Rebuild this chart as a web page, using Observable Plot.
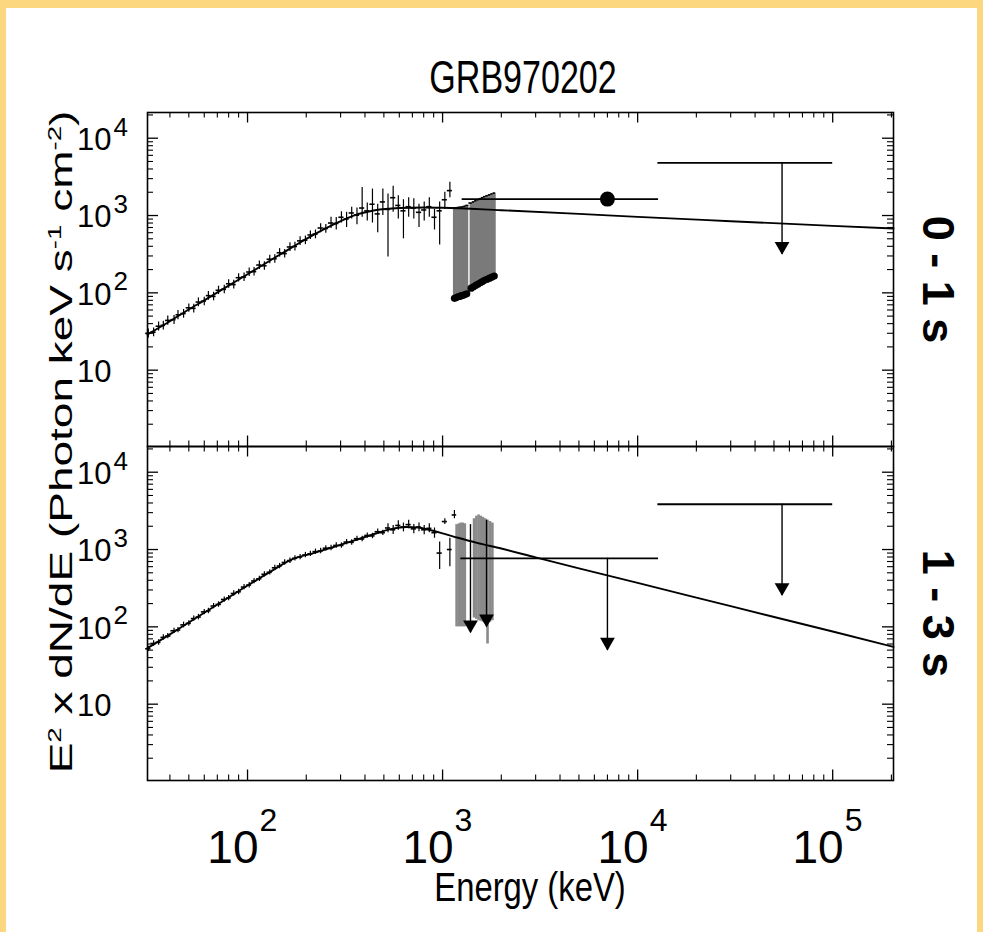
<!DOCTYPE html>
<html>
<head>
<meta charset="utf-8">
<script src="https://cdn.jsdelivr.net/npm/d3@7"></script>
<script src="https://cdn.jsdelivr.net/npm/@observablehq/plot@0.6"></script>
<style>
  html, body { margin: 0; padding: 0; background: #FDD680; }
  #page { position: relative; width: 983px; height: 932px; overflow: hidden; background: #FDD680; }
  #panel { position: absolute; left: 6px; top: 8px; width: 971px; height: 924px; background: #fff; }
  #chart { position: absolute; left: 0; top: 0; }
  .lbl { position: absolute; font-family: "Liberation Sans", Arial, Helvetica, sans-serif; color: #000; white-space: nowrap; line-height: 1; }
  .lbl sup { font-size: 0.6em; line-height: 0; vertical-align: 0.6em; }
  #title { left: 523px; top: 77px; font-size: 46px; transform: translate(-50%, -50%) scaleX(0.74); }
  #xlabel { left: 530px; top: 887px; font-size: 40px; transform: translate(-50%, -50%) scaleX(0.82); }
  #ylabel { left: 61px; top: 442px; font-size: 46px; transform: translate(-50%, -50%) rotate(-90deg) scaleY(0.68); }
</style>
</head>
<body>
<div id="page">
  <div id="panel"><div id="chart"></div></div>
  <div class="lbl" id="title">GRB970202</div>
  <div class="lbl" id="xlabel">Energy (keV)</div>
  <div class="lbl" id="ylabel">E<sup>2</sup> x dN/dE (Photon keV s<sup>-1</sup> cm<sup>-2</sup>)</div>
</div>
<script>
// ---------------- data ----------------
const panels = ["0 - 1 s", "1 - 3 s"];

// 0-1 s : dense spectrum (keV, E^2 dN/dE, lower, upper)
const energyTop = [31,33,35,37,39,42,44,47,50,53,56,60,63,67,71,76,80,85,90,96,102,108,115,122,130,138,146,155,165,175,186,198,210,223,237,252,268,285,303,322,342,364,387,411,437,465,494,525,558,593,630,670,712,757,805,855,909,966,1027,1090];
const fluxTop   = [30,31,37,38,44,45,52,54,64,63,76,78,92,90,108,111,131,128,157,160,186,188,229,224,272,276,330,322,392,398,470,480,560,575,690,680,800,790,950,900,1080,1010,1250,1150,1400,1050,1500,1200,1700,1350,1150,1300,1250,1100,1180,1300,950,1150,1600,2100];
const lowTop    = [26,27,32,33,38,39,45,47,56,55,66,68,80,79,95,97,115,112,138,140,163,165,200,196,238,242,290,282,343,348,410,420,490,500,600,590,680,650,800,700,900,760,950,850,800,600,1000,290,1100,900,500,950,900,700,850,950,650,415,1200,1700];
const highTop   = [34,35,42,43,50,51,59,61,72,71,86,88,104,102,122,125,148,145,177,181,210,212,259,253,307,312,373,364,443,450,531,542,633,650,780,768,950,940,1120,1100,1280,1250,2300,1450,2200,1400,2200,1900,2400,1800,1600,1700,1650,1400,1500,1700,1200,1500,2000,2700];

// 1-3 s : dense spectrum
const energyBot = [31,33,35,37,39,42,44,47,50,53,56,60,63,67,71,76,80,85,90,96,102,108,115,122,130,138,146,155,165,175,186,198,210,223,237,252,268,285,303,322,342,364,387,411,437,465,494,525,558,593,630,670,712,757,805,855,909,966,1027,1090,1150];
const fluxBot   = [52,61,63,73,76,89,91,106,111,128,134,156,161,186,195,226,236,270,284,327,347,392,418,478,508,580,612,680,720,770,800,850,880,940,960,1040,1050,1130,1130,1250,1240,1380,1370,1520,1500,1700,1650,1900,1800,2050,1950,2100,1850,1950,1800,1880,1650,900,2300,1000,2800];
const lowBot    = [48,56,58,67,70,82,84,97,102,118,123,143,148,171,179,208,217,248,261,301,319,361,385,440,467,534,563,625,662,708,736,782,810,865,883,957,966,1040,1040,1150,1140,1270,1260,1400,1380,1560,1520,1650,1560,1780,1690,1850,1600,1700,1550,1650,1400,550,2100,600,2500];
const highBot   = [56,66,68,79,82,96,98,115,120,138,145,168,174,201,211,244,255,292,307,353,375,423,451,516,549,626,661,735,778,832,864,918,950,1015,1037,1123,1134,1220,1220,1350,1340,1490,1480,1640,1620,1840,1780,2150,2050,2350,2200,2400,2100,2200,2050,2150,1900,1250,2500,1400,3200];

// high-energy channels with large errors (grey)
const greyEnergyTop = [1150,1175,1200,1225,1250,1275,1300,1330,1400,1440,1480,1520,1560,1600,1640,1690,1740,1790,1840];
const greyLowTop    = [85,87,89,90,92,93,95,97,115,120,125,130,135,140,145,150,155,160,165];
const greyHighTop   = [1250,1260,1270,1280,1290,1300,1320,1350,1450,1500,1550,1600,1650,1700,1750,1800,1850,1900,1950];

const greyEnergyBot = [1180,1210,1240,1270,1300,1450,1490,1530,1570,1610,1650,1700,1750,1800];
const greyLowBot    = [100,100,100,100,100,130,125,120,118,115,112,60,115,120];
const greyHighBot   = [2100,2150,2200,2200,2150,2500,2700,2800,2700,2600,2500,2400,2300,2200];

// best-fit model curves
const modelEnergyTop = [30.7,40,50,60,80,100,130,170,220,280,350,450,600,800,1000,2000,5000,10000,30000,100000,205000];
const modelFluxTop   = [29,43,61,80,124,174,260,391,570,780,1000,1170,1250,1270,1260,1170,1050,960,845,735,680];
const modelEnergyBot = [30.7,40,50,60,80,100,130,170,220,280,350,450,550,650,750,850,1000,1200,1500,2000,3000,5000,10000,30000,100000,205000];
const modelFluxBot   = [53,80,114,152,240,342,510,750,905,1090,1300,1600,1850,1960,1930,1800,1620,1420,1220,1030,790,570,370,185,87,55];

// horizontal bars (energy ranges) and upper-limit arrows
const barPanel  = ["0 - 1 s","0 - 1 s","1 - 3 s","1 - 3 s"];
const barFrom   = [1260,12700,1240,12700];
const barTo     = [12800,100000,12800,100000];
const barLevel  = [1630,4800,770,3850];

const arrowPanel  = ["0 - 1 s","1 - 3 s","1 - 3 s","1 - 3 s","1 - 3 s"];
const arrowEnergy = [55000,7000,55000,1390,1680];
const arrowFrom   = [4800,770,3850,2100,2400];
const arrowTo     = [316,50,255,84,100];

const pointPanel = ["0 - 1 s"];
const pointEnergy = [7000];
const pointFlux = [1630];
const pointLow = [1400];
const pointHigh = [1900];

// axis ticks
const xTickValues = [1e2, 1e3, 1e4, 1e5];
const xTickBase = ["10","10","10","10"];
const xTickExp = ["2","3","4","5"];
const yTickValues = [10, 100, 1000, 10000];
const yTickBase = ["10","10","10","10"];
const yTickExp = ["", "2", "3", "4"];

// ---------------- build tables ----------------
const xDomain = [30.7, 2.05e5];
const yDomain = [1.03, 2.15e4];

function spectrum(panel, E, V, L, U) {
  return E.map((e, i) => {
    const prev = i > 0 ? E[i - 1] : e * e / E[i + 1];
    const next = i < E.length - 1 ? E[i + 1] : e * e / E[i - 1];
    return {panel, e, v: V[i], lo: L[i], hi: U[i], e1: Math.sqrt(prev * e), e2: Math.sqrt(e * next)};
  });
}
const dataRows = [
  ...spectrum(panels[0], energyTop, fluxTop, lowTop, highTop),
  ...spectrum(panels[1], energyBot, fluxBot, lowBot, highBot)
];
function greyRows(panel, E, L, U) {
  return E.map((e, i) => {
    const prev = i > 0 ? E[i - 1] : e * e / E[i + 1];
    const next = i < E.length - 1 ? E[i + 1] : e * e / E[i - 1];
    return {panel, e, lo: L[i], hi: U[i], e1: Math.sqrt(prev * e), e2: Math.sqrt(e * next)};
  });
}
const greyTop = greyRows(panels[0], greyEnergyTop, greyLowTop, greyHighTop);
const greyBot = greyRows(panels[1], greyEnergyBot, greyLowBot, greyHighBot);
const modelRows = [
  ...modelEnergyTop.map((e, i) => ({panel: panels[0], e, v: modelFluxTop[i]})),
  ...modelEnergyBot.map((e, i) => ({panel: panels[1], e, v: modelFluxBot[i]}))
];
const bars = barPanel.map((p, i) => ({panel: p, e1: barFrom[i], e2: barTo[i], v: barLevel[i]}));
const arrows = arrowPanel.map((p, i) => ({panel: p, e: arrowEnergy[i], from: arrowFrom[i], to: arrowTo[i]}));
const points = pointPanel.map((p, i) => ({panel: p, e: pointEnergy[i], v: pointFlux[i], lo: pointLow[i], hi: pointHigh[i]}));

const xMinor = [];
for (const d of [10, 100, 1000, 10000, 100000]) for (let k = 2; k <= 9; k++) {
  const v = k * d; if (v > xDomain[0] && v < xDomain[1] && !xTickValues.includes(v)) xMinor.push(v);
}
const yMinor = [];
for (const d of [1, 10, 100, 1000, 10000]) for (let k = 2; k <= 9; k++) {
  const v = k * d; if (v > yDomain[0] && v < yDomain[1] && !yTickValues.includes(v)) yMinor.push(v);
}
const xTicks = xTickValues.map((v, i) => ({v, base: xTickBase[i], exp: xTickExp[i], panel: panels[1]}));
const yTicks = yTickValues.map((v, i) => ({v, base: yTickBase[i], exp: yTickExp[i]}));

// ---------------- plot ----------------
const W = 971, H = 924, mL = 141, mR = 84, mT = 103, mB = 152;
const FH = (H - mT - mB) / 2, FW = W - mL - mR;
const MAJ = 11, MIN = 6;

const chart = Plot.plot({
  width: W, height: H,
  marginLeft: mL, marginRight: mR, marginTop: mT, marginBottom: mB,
  style: {background: "transparent", color: "#000", fontFamily: "Liberation Sans, Arial, sans-serif"},
  x: {type: "log", domain: xDomain, axis: null},
  y: {type: "log", domain: yDomain, axis: null},
  fy: {domain: panels, padding: 0, axis: null},
  marks: [
    // inward ticks on all four sides of each panel
    Plot.ruleX(xTickValues, {insetTop: FH - MAJ, strokeWidth: 1.3}),
    Plot.ruleX(xTickValues, {insetBottom: FH - MAJ, strokeWidth: 1.3}),
    Plot.ruleX(xMinor, {insetTop: FH - MIN, strokeWidth: 1.1}),
    Plot.ruleX(xMinor, {insetBottom: FH - MIN, strokeWidth: 1.1}),
    Plot.ruleY(yTickValues, {insetRight: FW - MAJ, strokeWidth: 1.3}),
    Plot.ruleY(yTickValues, {insetLeft: FW - MAJ, strokeWidth: 1.3}),
    Plot.ruleY(yMinor, {insetRight: FW - MIN, strokeWidth: 1.1}),
    Plot.ruleY(yMinor, {insetLeft: FW - MIN, strokeWidth: 1.1}),

    // grey high-energy channels
    Plot.ruleX(greyTop, {x: "e", y1: "lo", y2: "hi", fy: "panel", stroke: "#7a7a7a", strokeWidth: 3}),
    Plot.ruleX(greyBot, {x: "e", y1: "lo", y2: "hi", fy: "panel", stroke: "#8a8a8a", strokeWidth: 2.6}),
    Plot.ruleY(greyTop, {y: "hi", x1: "e1", x2: "e2", fy: "panel", stroke: "#000", strokeWidth: 1.6}),
    Plot.dot(greyTop, {x: "e", y: "lo", fy: "panel", r: 3.6, fill: "#000", stroke: "none"}),

    // spectrum points with error bars
    Plot.ruleX(dataRows, {x: "e", y1: "lo", y2: "hi", fy: "panel", stroke: "#000", strokeWidth: 1.2}),
    Plot.ruleY(dataRows, {y: "v", x1: "e1", x2: "e2", fy: "panel", stroke: "#000", strokeWidth: 1.6}),

    // model
    Plot.line(modelRows, {x: "e", y: "v", fy: "panel", stroke: "#000", strokeWidth: 1.9, curve: "monotone-x"}),

    // energy-range bars, upper limits
    Plot.ruleY(bars, {y: "v", x1: "e1", x2: "e2", fy: "panel", stroke: "#000", strokeWidth: 1.8}),
    Plot.ruleX(arrows, {x: "e", y1: "from", y2: "to", fy: "panel", stroke: "#000", strokeWidth: 1.4}),
    Plot.dot(arrows, {x: "e", y: "to", fy: "panel", symbol: "triangle", rotate: 180, r: 5.5, dy: -8, fill: "#000", stroke: "none"}),
    Plot.ruleX(points, {x: "e", y1: "lo", y2: "hi", fy: "panel", stroke: "#000", strokeWidth: 1.4}),
    Plot.dot(points, {x: "e", y: "v", fy: "panel", r: 7.5, fill: "#000", stroke: "none"}),

    Plot.frame({stroke: "#000", strokeWidth: 1.6}),

    // tick labels
    Plot.text(yTicks, {y: "v", text: "base", frameAnchor: "left", dx: -36, dy: 2, textAnchor: "end", lineAnchor: "middle", fontSize: 31}),
    Plot.text(yTicks, {y: "v", text: "exp", frameAnchor: "left", dx: -34, dy: -11, textAnchor: "start", lineAnchor: "middle", fontSize: 26}),
    Plot.text(xTicks, {x: "v", fy: "panel", text: "base", frameAnchor: "bottom", dx: 11, dy: 68, textAnchor: "end", lineAnchor: "middle", fontSize: 46}),
    Plot.text(xTicks, {x: "v", fy: "panel", text: "exp", frameAnchor: "bottom", dx: 12, dy: 40, textAnchor: "start", lineAnchor: "middle", fontSize: 32}),

    // panel labels
    Plot.text(panels, {fy: d => d, text: d => d, frameAnchor: "right", dx: 44, rotate: 90, textAnchor: "middle", lineAnchor: "middle", fontSize: 45, fontWeight: "bold"})
  ]
});
document.getElementById("chart").appendChild(chart);

// condense glyphs to match the narrow lettering of the original figure
const squash = {"31": [0.82, 1], "26": [0.85, 1], "46": [0.72, 1], "32": [0.8, 1], "45": [1, 0.74]};
chart.querySelectorAll("g[aria-label='text']").forEach(g => {
  const fs = g.getAttribute("font-size");
  const s = squash[fs];
  if (!s) return;
  g.querySelectorAll("text").forEach(t => {
    const tr = t.getAttribute("transform");
    if (tr) {
      t.setAttribute("transform", tr + ` scale(${s[0]},${s[1]})`);
    } else {
      const x = +(t.getAttribute("x") || 0), y = +(t.getAttribute("y") || 0);
      t.setAttribute("transform", `translate(${x},${y}) scale(${s[0]},${s[1]}) translate(${-x},${-y})`);
    }
  });
});
</script>
</body>
</html>
